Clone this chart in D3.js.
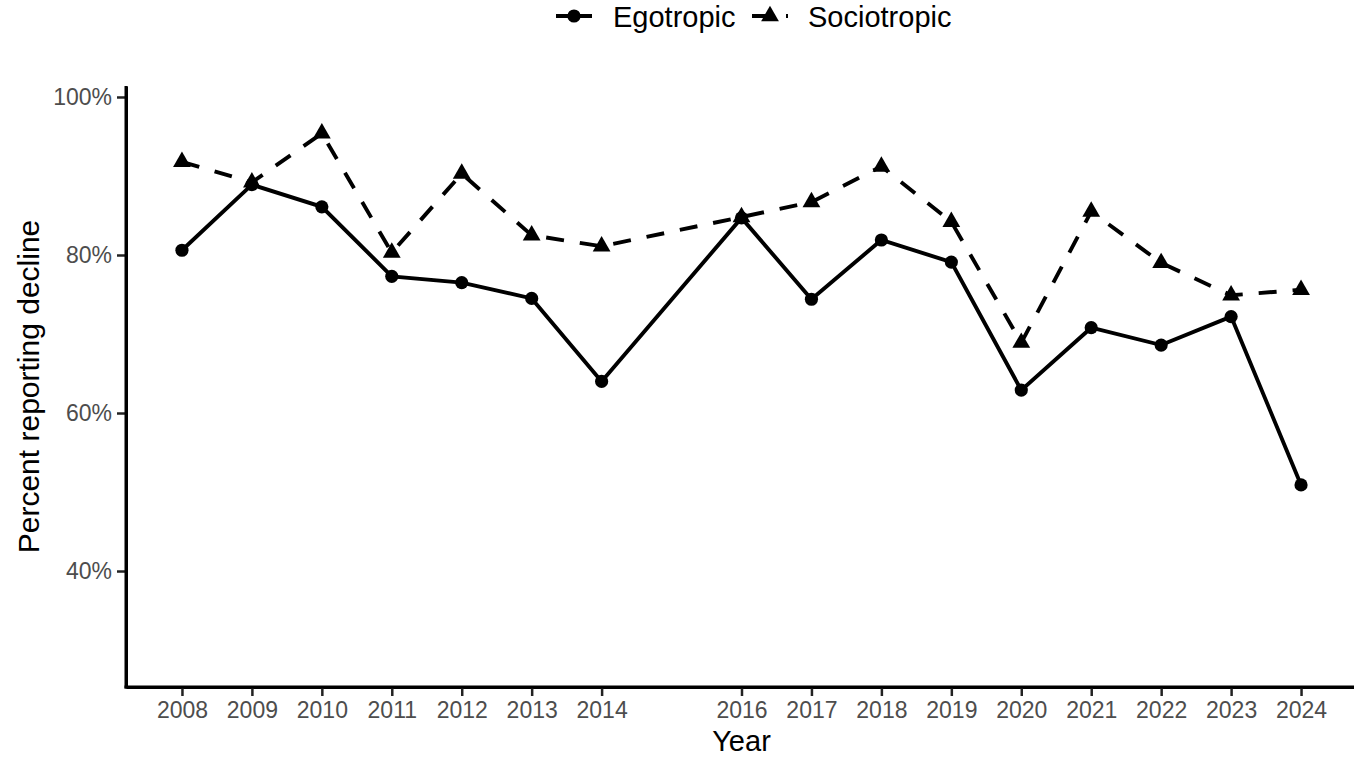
<!DOCTYPE html>
<html>
<head>
<meta charset="utf-8">
<script src="https://cdn.jsdelivr.net/npm/d3@7"></script>
<style>
  html, body { margin: 0; padding: 0; background: #fff; }
  svg { display: block; font-family: "Liberation Sans", Arial, sans-serif; }
</style>
</head>
<body>
<svg id="chart" width="1354" height="757"></svg>
<script>
const years = [2008, 2009, 2010, 2011, 2012, 2013, 2014, 2016, 2017, 2018, 2019, 2020, 2021, 2022, 2023, 2024];
const egotropic = [80.6, 88.9, 86.1, 77.3, 76.5, 74.5, 64.0, 84.7, 74.4, 81.9, 79.1, 62.9, 70.8, 68.6, 72.2, 50.9];
const sociotropic = [91.8, 89.2, 95.4, 80.3, 90.3, 82.5, 81.1, 84.8, 86.7, 91.2, 84.2, 68.9, 85.5, 79.0, 74.9, 75.6];
const yTicks = [40, 60, 80, 100];
const seriesNames = ["Egotropic", "Sociotropic"];

(function () {
const svg = d3.select("#chart");
const pLeft = 126, pRight = 1357, pTop = 86, pBottom = 687;

const x = d3.scaleLinear().domain([2007.2, 2024.8]).range([pLeft, pRight]);
const y = d3.scaleLinear().domain([25.32, 101.39]).range([pBottom, pTop]);

const tickColor = "#222";
const labelColor = "#4d4d4d";

const xAxis = svg.append("g").attr("transform", `translate(0,${pBottom})`)
  .call(d3.axisBottom(x).tickValues(years).tickFormat(d3.format("d")).tickSize(9).tickSizeOuter(0).tickPadding(6));
const yAxis = svg.append("g").attr("transform", `translate(${pLeft},0)`)
  .call(d3.axisLeft(y).tickValues(yTicks).tickFormat(d => d + "%").tickSize(9).tickSizeOuter(0).tickPadding(5));

[xAxis, yAxis].forEach(g => {
  g.select(".domain").attr("stroke", "#000").attr("stroke-width", 3);
  g.selectAll(".tick line").attr("stroke", tickColor).attr("stroke-width", 2.5);
  g.selectAll(".tick text").attr("fill", labelColor).attr("font-size", 23)
    .attr("font-family", "Liberation Sans, Arial, sans-serif");
});
svg.append("line").attr("x1", pLeft - 1.5).attr("x2", pRight).attr("y1", pBottom).attr("y2", pBottom)
  .attr("stroke", "#000").attr("stroke-width", 3);
svg.append("line").attr("x1", pLeft).attr("x2", pLeft).attr("y1", pTop).attr("y2", pBottom + 1.5)
  .attr("stroke", "#000").attr("stroke-width", 3);

svg.append("text").attr("x", (pLeft + pRight) / 2).attr("y", 751).attr("text-anchor", "middle")
  .attr("font-size", 29).attr("fill", "#000").text("Year");
svg.append("text").attr("transform", `translate(39,${(pTop + pBottom) / 2}) rotate(-90)`)
  .attr("text-anchor", "middle").attr("font-size", 30).attr("fill", "#000").text("Percent reporting decline");

const egoData = years.map((yr, i) => ({ x: yr, y: egotropic[i] }));
const socData = years.map((yr, i) => ({ x: yr, y: sociotropic[i] }));

const line = d3.line().x(d => x(d.x)).y(d => y(d.y));
const dash = "18,16";
const lw = 3.9;

svg.append("path").datum(socData).attr("d", line).attr("fill", "none")
  .attr("stroke", "#000").attr("stroke-width", lw).attr("stroke-dasharray", dash);
svg.append("path").datum(egoData).attr("d", line).attr("fill", "none")
  .attr("stroke", "#000").attr("stroke-width", lw);

const s = 6.6;
function triPath(cx, cy) {
  const r = 1.555 * s, xc = 1.347 * s, yc = 0.778 * s;
  return `M${cx},${cy - r}L${cx + xc},${cy + yc}L${cx - xc},${cy + yc}Z`;
}

svg.append("g").selectAll("circle").data(egoData).join("circle")
  .attr("cx", d => x(d.x)).attr("cy", d => y(d.y)).attr("r", s).attr("fill", "#000");
svg.append("g").selectAll("path").data(socData).join("path")
  .attr("d", d => triPath(x(d.x), y(d.y))).attr("fill", "#000");

const lg = svg.append("g");
const ly = 16;
lg.append("line").attr("x1", 556).attr("x2", 592).attr("y1", ly).attr("y2", ly)
  .attr("stroke", "#000").attr("stroke-width", lw);
lg.append("circle").attr("cx", 574).attr("cy", ly).attr("r", s).attr("fill", "#000");
lg.append("text").attr("x", 613).attr("y", 27).attr("font-size", 29).attr("fill", "#000").text(seriesNames[0]);

lg.append("line").attr("x1", 752).attr("x2", 788).attr("y1", ly).attr("y2", ly)
  .attr("stroke", "#000").attr("stroke-width", lw).attr("stroke-dasharray", dash);
lg.append("path").attr("d", triPath(770, ly)).attr("fill", "#000");
lg.append("text").attr("x", 808).attr("y", 27).attr("font-size", 29).attr("fill", "#000").text(seriesNames[1]);
})();
</script>
</body>
</html>
